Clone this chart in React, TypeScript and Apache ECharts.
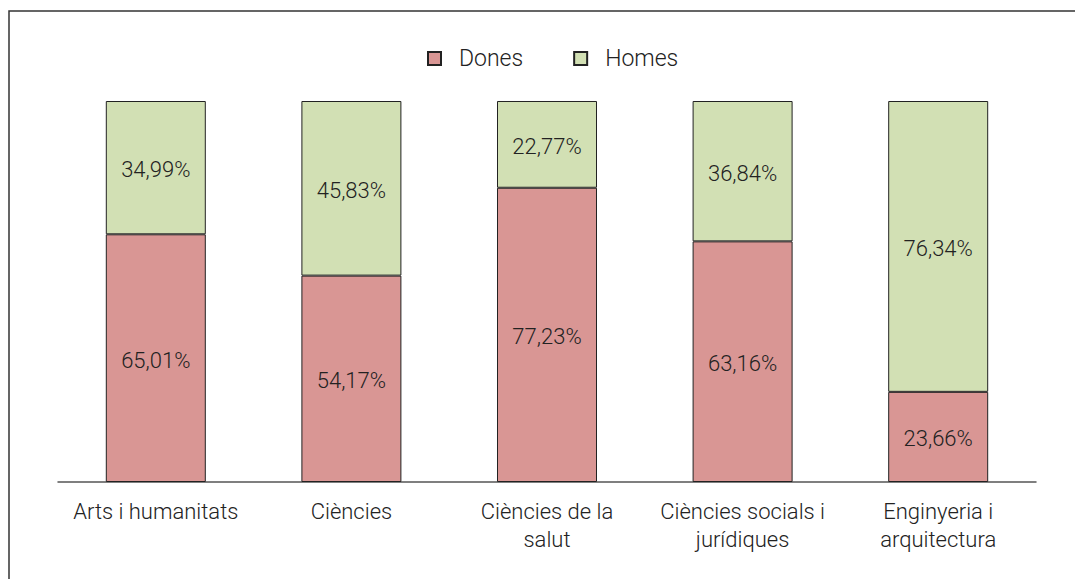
import React, { useEffect, useRef } from "react";
import * as echarts from "echarts";

const categories = [
  "Arts i humanitats",
  "Ciències",
  "Ciències de la salut",
  "Ciències socials i jurídiques",
  "Enginyeria i arquitectura",
];
const tickLabels = [
  "Arts i humanitats",
  "Ciències",
  "Ciències de la\nsalut",
  "Ciències socials i\njurídiques",
  "Enginyeria i\narquitectura",
];
const dones = [65.01, 54.17, 77.23, 63.16, 23.66];
const homes = [34.99, 45.83, 22.77, 36.84, 76.34];

const FONT = "Roboto, 'Liberation Sans', sans-serif";

export default function App() {
  const ref = useRef<HTMLDivElement>(null);
  useEffect(() => {
    document.body.style.margin = "0";
    const chart = echarts.init(ref.current!, null, { renderer: "svg" });
    const fmt = (p: any) => p.value.toFixed(2).replace(".", ",") + "%";
    chart.setOption({
      animation: false,
      textStyle: { fontFamily: FONT },
      graphic: [
        {
          type: "rect",
          shape: { x: 9, y: 11, width: 1200, height: 700 },
          style: { fill: "none", stroke: "#333", lineWidth: 1.5 },
          silent: true,
        },
      ],
      legend: {
        left: 422,
        top: 42,
        icon: "rect",
        itemWidth: 13,
        itemHeight: 13,
        itemGap: 50,
        textStyle: {
          fontSize: 23,
          color: "#222",
          fontFamily: FONT,
          fontWeight: 300,
          padding: [0, 0, 0, 13],
        },
        data: ["Dones", "Homes"],
      },
      grid: { left: 58, right: 39, top: 101, bottom: 97 },
      xAxis: {
        type: "category",
        data: categories,
        axisLine: { lineStyle: { color: "#555", width: 1.5 } },
        axisTick: { show: false },
        axisLabel: {
          fontSize: 22,
          color: "#222",
          fontFamily: FONT,
          fontWeight: 300,
          lineHeight: 28,
          margin: 15,
          interval: 0,
          formatter: (_v: string, i: number) => tickLabels[i],
        },
      },
      yAxis: { type: "value", min: 0, max: 100, show: false },
      series: [
        {
          name: "Dones",
          type: "bar",
          stack: "total",
          barWidth: 100,
          data: dones,
          itemStyle: { color: "#D99694", borderColor: "#222", borderWidth: 1 },
          label: {
            show: true,
            position: "inside",
            formatter: fmt,
            fontSize: 22,
            color: "#222",
            fontFamily: FONT,
            fontWeight: 300,
            offset: [0, 2],
          },
        },
        {
          name: "Homes",
          type: "bar",
          stack: "total",
          barWidth: 100,
          data: homes,
          itemStyle: { color: "#D2E0B4", borderColor: "#222", borderWidth: 1 },
          label: {
            show: true,
            position: "inside",
            formatter: fmt,
            fontSize: 22,
            color: "#222",
            fontFamily: FONT,
            fontWeight: 300,
            offset: [0, 2],
          },
        },
      ],
    });
    return () => chart.dispose();
  }, []);
  return <div ref={ref} style={{ width: 1075, height: 579 }} />;
}
